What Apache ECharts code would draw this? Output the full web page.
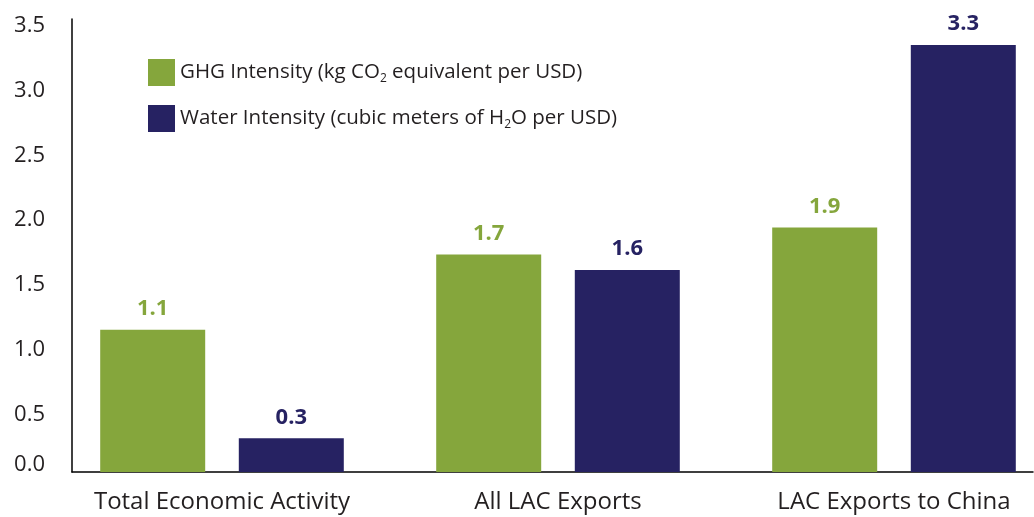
<!DOCTYPE html>
<html>
<head>
<meta charset="utf-8">
<script src="https://cdn.jsdelivr.net/npm/echarts@6/dist/echarts.min.js"></script>
<style>html,body{margin:0;padding:0;background:#fff;}#c{width:1034px;height:517px;}</style>
</head>
<body>
<div id="c"></div>
<script>
var categories = ['Total Economic Activity', 'All LAC Exports', 'LAC Exports to China'];
var ghgValues = [1.1, 1.68, 1.89];
var waterValues = [0.26, 1.56, 3.3];
var yTicks = [0, 0.5, 1.0, 1.5, 2.0, 2.5, 3.0, 3.5];
var seriesNames = ['GHG', 'Water'];

var GREEN = '#85a63c', NAVY = '#262262', TXT = '#231f20';
var FONT = '"Open Sans", "DejaVu Sans", sans-serif';

var chart = echarts.init(document.getElementById('c'));
var legendText = {
  GHG: '{n|GHG Intensity (kg CO}{s|2}{n| equivalent per USD)}',
  Water: '{n|Water Intensity (cubic meters of H}{s|2}{n|O per USD)}'
};
function barLabel(color) {
  return {
    show: true, position: 'top', distance: 10,
    color: color, fontFamily: FONT, fontWeight: 'bold', fontSize: 22,
    formatter: function (p) { return p.value.toFixed(1); }
  };
}
chart.setOption({
  animation: false,
  backgroundColor: '#fff',
  textStyle: { fontFamily: FONT },
  grid: [
    { left: 54, width: 1008, top: 19, bottom: 45, outerBoundsMode: 'none', containLabel: false },
    { left: 72, right: 1, top: 19, bottom: 45, outerBoundsMode: 'none', containLabel: false }
  ],
  legend: {
    orient: 'vertical', left: 143, top: 54,
    itemWidth: 27, itemHeight: 27, itemGap: 19,
    icon: 'rect',
    data: seriesNames,
    formatter: function (n) { return legendText[n]; },
    textStyle: {
      padding: [0, 0, 0, 0],
      rich: {
        n: { fontFamily: FONT, fontSize: 20.5, color: TXT },
        s: { fontFamily: FONT, fontSize: 12, color: TXT, padding: [12, 0, 0, 0] }
      }
    }
  },
  xAxis: [
    {
      type: 'category', gridIndex: 0, data: categories,
      axisLine: { show: false }, axisTick: { show: false },
      axisLabel: { color: TXT, fontSize: 24, fontFamily: FONT, margin: 18, interval: 0, hideOverlap: false }
    },
    {
      type: 'value', gridIndex: 1, min: 0, max: 1,
      axisLine: { show: true, lineStyle: { color: '#000', width: 1.5 } },
      axisTick: { show: false }, axisLabel: { show: false }, splitLine: { show: false }
    }
  ],
  yAxis: [
    { type: 'value', gridIndex: 0, min: 0, max: 3.5, interval: 0.5, show: false },
    {
      type: 'value', gridIndex: 1, min: yTicks[0], max: yTicks[yTicks.length - 1], interval: 0.5,
      axisLine: { show: true, lineStyle: { color: '#000', width: 1.5 } },
      axisTick: { show: false }, splitLine: { show: false },
      axisLabel: {
        margin: 27,
        formatter: function (v) { return v === 0 ? '{z|0.0}' : '{a|' + v.toFixed(1) + '}'; },
        rich: {
          a: { fontFamily: FONT, fontSize: 22, color: TXT, padding: [14, 0, 0, 0] },
          z: { fontFamily: FONT, fontSize: 22, color: TXT, padding: [0, 0, 14, 0] }
        }
      }
    }
  ],
  series: [
    {
      name: 'GHG', type: 'bar', xAxisIndex: 0, yAxisIndex: 0, data: ghgValues,
      barWidth: 105, barGap: '32%', itemStyle: { color: GREEN }, label: barLabel(GREEN)
    },
    {
      name: 'Water', type: 'bar', xAxisIndex: 0, yAxisIndex: 0, data: waterValues,
      barWidth: 105, itemStyle: { color: NAVY }, label: barLabel(NAVY)
    }
  ]
});
</script>
</body>
</html>
